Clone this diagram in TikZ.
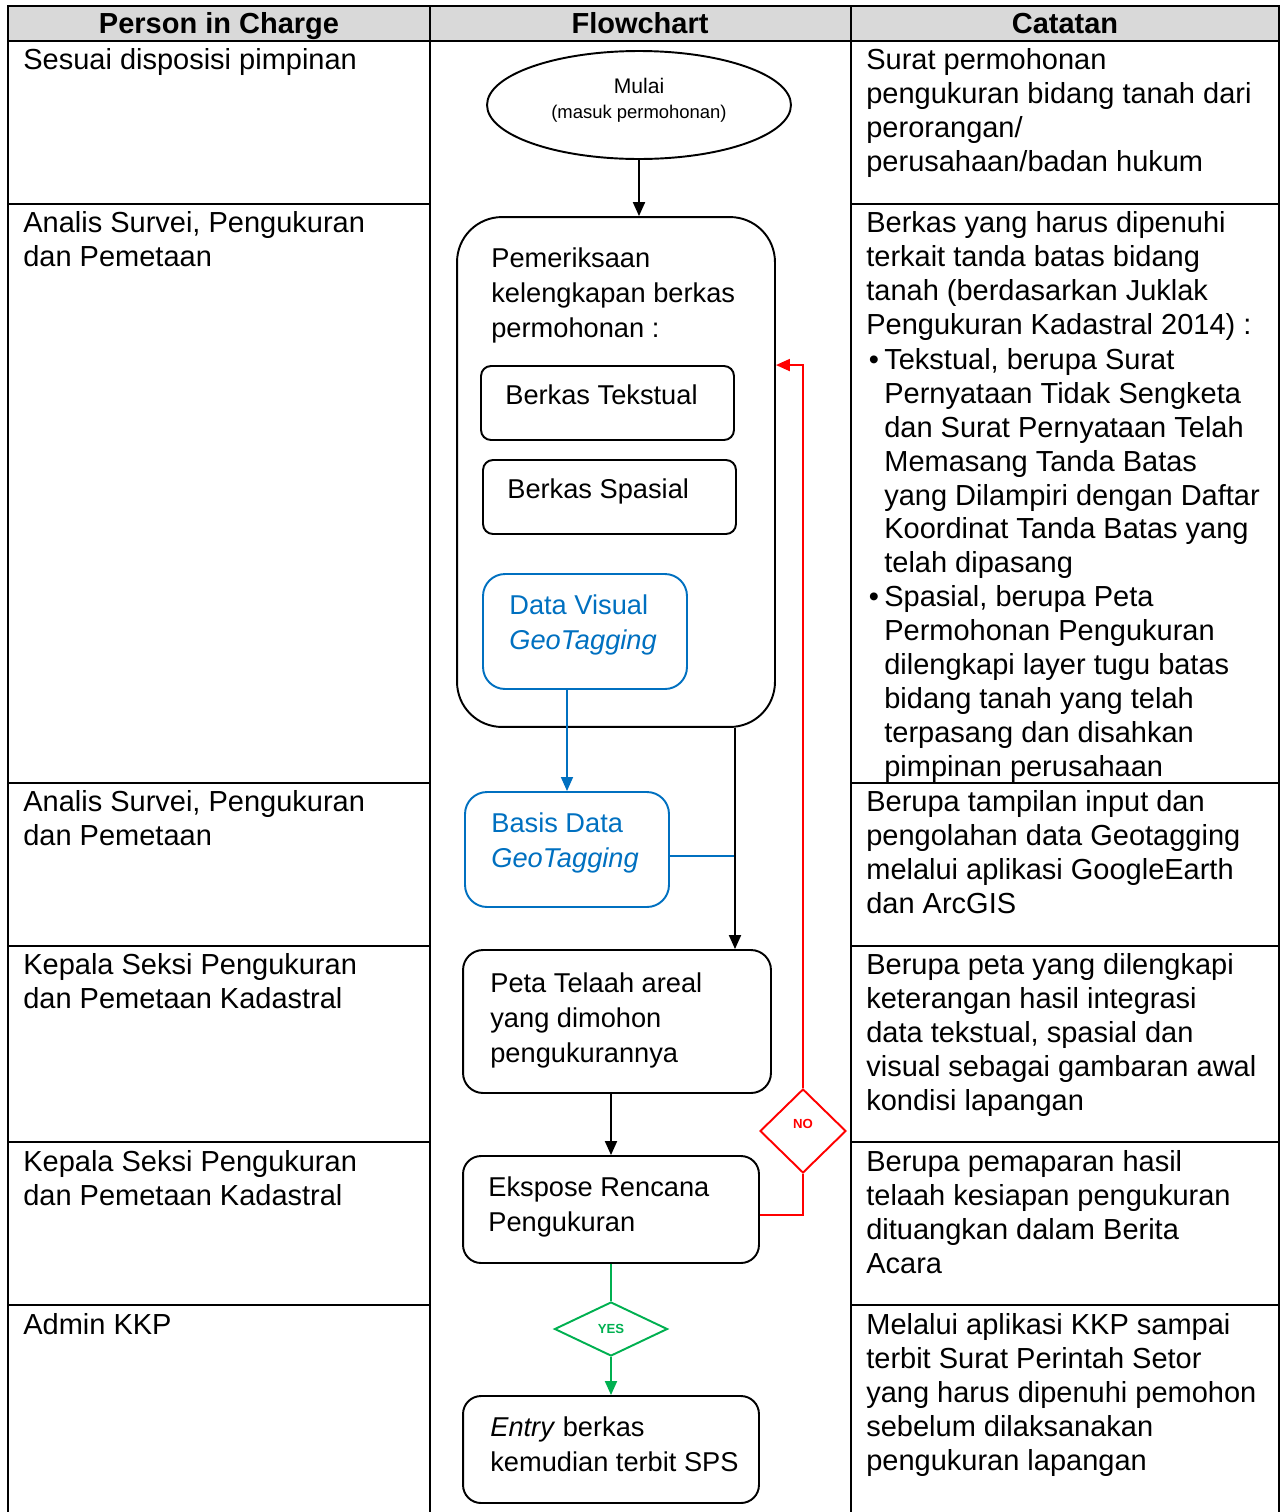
\documentclass[tikz,border=0pt]{standalone}
\usepackage{fontspec}
\setmainfont{Liberation Sans}
\usetikzlibrary{shapes.geometric,arrows.meta}
\definecolor{hdrgray}{HTML}{D9D9D9}
\definecolor{fcblue}{HTML}{0070C0}
\definecolor{fcgreen}{HTML}{00B050}
\newcommand{\bodyfont}{\fontsize{16.5}{19.3}\selectfont}
\newcommand{\fcfont}{\fontsize{15.5}{19.8}\selectfont}

\begin{document}
\begin{tikzpicture}[x=0.02cm,y=-0.02cm,
  txt/.style={anchor=north west,inner sep=0pt,align=left,font=\bodyfont,
    execute at begin node=\strut,yshift=10.8pt},
  fctxt/.style={anchor=north west,inner sep=0pt,align=left,font=\fcfont,
    execute at begin node=\strut,yshift=10.5pt},
  hdr/.style={anchor=base,inner sep=0pt,font=\bodyfont\bfseries},
  box/.style={draw,rectangle,rounded corners=#1,line width=1.1pt,inner sep=0pt},
  box/.default=0.36cm,
  dec/.style={draw,diamond,line width=1.1pt,inner sep=0pt,font=\fontsize{7.5}{9}\selectfont\bfseries},
  arr/.style={line width=1.1pt,-{Triangle[length=0.28cm,width=0.24cm]}},
  lin/.style={line width=1.1pt},
  grid/.style={line width=0.9pt}]
\useasboundingbox (0,0) rectangle (1281,1512);

% table
\fill[hdrgray] (8,6) rectangle (1279,41);
\draw[grid] (8,1512) -- (8,6) -- (1279,6) -- (1279,1512);
\draw[grid] (8,41) -- (1279,41);
\draw[grid] (430,6) -- (430,1512);
\draw[grid] (851,6) -- (851,1512);
\foreach \y in {204,783,946,1142,1305} {
  \draw[grid] (8,\y) -- (430,\y);
  \draw[grid] (851,\y) -- (1279,\y);
}
\node[hdr] (h1) at (219,33) {Person in Charge};
\node[hdr] (h2) at (640,33) {Flowchart};
\node[hdr] (h3) at (1065,33) {Catatan};

% person in charge
\node[txt] (p1) at (23,64) {Sesuai disposisi pimpinan};
\node[txt] (p2) at (23,230) {Analis Survei, Pengukuran\\dan Pemetaan};
\node[txt] (p3) at (23,809) {Analis Survei, Pengukuran\\dan Pemetaan};
\node[txt] (p4) at (23,972) {Kepala Seksi Pengukuran\\dan Pemetaan Kadastral};
\node[txt] (p5) at (23,1169) {Kepala Seksi Pengukuran\\dan Pemetaan Kadastral};
\node[txt] (p6) at (23,1329) {Admin KKP};

% catatan
\node[txt] (c1) at (866,67) {Surat permohonan\\pengukuran bidang tanah dari\\perorangan/\\perusahaan/badan hukum};
\node[txt] (c2) at (866,230) {Berkas yang harus dipenuhi\\terkait tanda batas bidang\\tanah (berdasarkan Juklak\\Pengukuran Kadastral 2014) :};
\node[txt] (c2b) at (884,367) {\llap{•\kern3pt}Tekstual, berupa Surat\\Pernyataan Tidak Sengketa\\dan Surat Pernyataan Telah\\Memasang Tanda Batas\\yang Dilampiri dengan Daftar\\Koordinat Tanda Batas yang\\telah dipasang\\\llap{•\kern3pt}Spasial, berupa Peta\\Permohonan Pengukuran\\dilengkapi layer tugu batas\\bidang tanah yang telah\\terpasang dan disahkan\\pimpinan perusahaan};
\node[txt] (c3) at (866,809) {Berupa tampilan input dan\\pengolahan data Geotagging\\melalui aplikasi GoogleEarth\\dan ArcGIS};
\node[txt] (c4) at (866,972) {Berupa peta yang dilengkapi\\keterangan hasil integrasi\\data tekstual, spasial dan\\visual sebagai gambaran awal\\kondisi lapangan};
\node[txt] (c5) at (866,1169) {Berupa pemaparan hasil\\telaah kesiapan pengukuran\\dituangkan dalam Berita\\Acara};
\node[txt] (c6) at (866,1332) {Melalui aplikasi KKP sampai\\terbit Surat Perintah Setor\\yang harus dipenuhi pemohon\\sebelum dilaksanakan\\pengukuran lapangan};

% flowchart
\node[draw,ellipse,line width=1.1pt,inner sep=0pt,minimum width=6.08cm,minimum height=2.16cm] (mulai) at (639,105) {};
\node[inner sep=0pt,align=center] (mulaitxt) at (639,100)
  {{\fontsize{12}{14}\selectfont Mulai}\\[2pt]{\fontsize{10.5}{12}\selectfont (masuk permohonan)}};
\node[box=0.9cm,minimum width=6.36cm,minimum height=10.2cm] (cek) at (616,472) {};
\node[box=0.2cm,minimum width=5.06cm,minimum height=1.48cm] (tekstual) at (607.5,403) {};
\node[box=0.2cm,minimum width=5.06cm,minimum height=1.48cm] (spasial) at (609.5,497) {};
\node[box=0.44cm,fcblue,minimum width=4.08cm,minimum height=2.3cm] (visual) at (585,631.5) {};
\node[box=0.44cm,fcblue,minimum width=4.08cm,minimum height=2.3cm] (basis) at (567,849.5) {};
\node[box=0.4cm,minimum width=6.16cm,minimum height=2.86cm] (peta) at (617,1021.5) {};
\node[box,minimum width=5.92cm,minimum height=2.14cm] (ekspose) at (611,1209.5) {};
\node[box,minimum width=5.92cm,minimum height=2.14cm] (entry) at (611,1449.5) {};
\node[dec,red,minimum width=1.72cm,minimum height=1.68cm,text depth=8pt] (no) at (803,1131) {NO};
\node[dec,fcgreen,minimum width=2.26cm,minimum height=1.08cm] (yes) at (611,1329) {YES};

\node[fctxt] (t1) at (491,266) {Pemeriksaan\\kelengkapan berkas\\permohonan :};
\node[fctxt] (t2) at (505,398) {Berkas Tekstual};
\node[fctxt] (t3) at (507,492) {Berkas Spasial};
\node[fctxt,text=fcblue] (t4) at (509,613) {Data Visual\\\textit{GeoTagging}};
\node[fctxt,text=fcblue] (t5) at (491,831) {Basis Data\\\textit{GeoTagging}};
\node[fctxt] (t6) at (490,991) {Peta Telaah areal\\yang dimohon\\pengukurannya};
\node[fctxt] (t7) at (488,1195) {Ekspose Rencana\\Pengukuran};
\node[fctxt] (t8) at (490,1435) {\textit{Entry} berkas\\kemudian terbit SPS};

\coordinate (jn) at (735,856);
\coordinate (nojn) at (803,1215);
\path[draw,arr] (mulai.south) -- (mulai.south |- cek.north);
\path[draw,arr,fcblue,line width=0.9pt] (basis.north |- visual.south) -- (basis.north);
\path[draw,lin,fcblue,line width=0.9pt] (basis.east |- jn) -- (jn);
\path[draw,arr] (cek.south -| jn) -- (peta.north -| jn);
\path[draw,arr] (ekspose.north |- peta.south) -- (ekspose.north);
\path[draw,lin,red] (ekspose.east |- nojn) -- (nojn) -- (no.south);
\path[draw,arr,red] (no.north) |- (cek.east |- tekstual.north);
\path[draw,lin,fcgreen] (ekspose.south) -- (yes.north);
\path[draw,arr,fcgreen] (yes.south) -- (entry.north);
\end{tikzpicture}
\end{document}
